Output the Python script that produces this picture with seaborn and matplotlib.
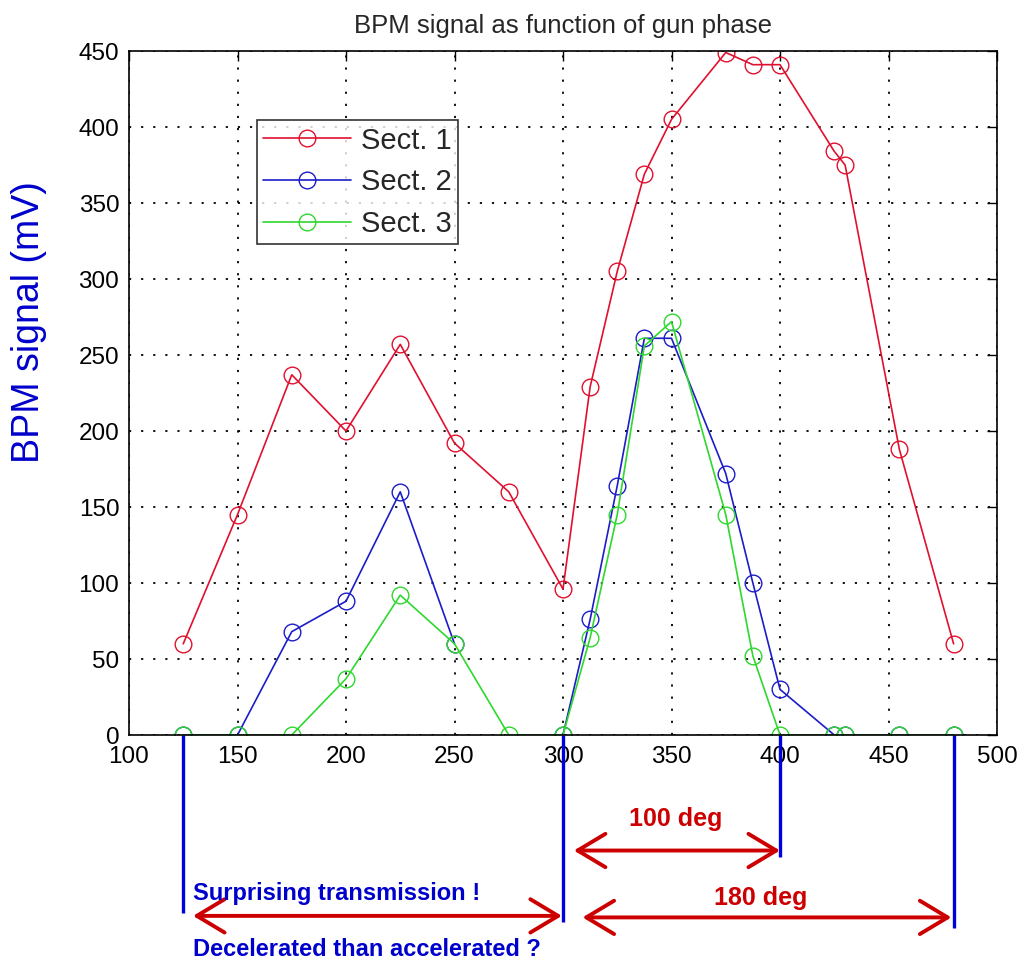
import numpy as np
import pandas as pd
import matplotlib
matplotlib.use("Agg")
import matplotlib.pyplot as plt
from matplotlib.lines import Line2D
import seaborn as sns

# Gun phase (deg) and BPM signal (mV) per section
phase = [125, 150, 175, 200, 225, 250, 275, 300, 312.5, 325, 337.5, 350,
         375, 387.5, 400, 425, 430, 455, 480]
sect1 = [60, 145, 237, 200, 257, 192, 160, 96, 229, 305, 369, 405,
         449, 441, 441, 384, 375, 188, 60]
sect2 = [0, 0, 68, 88, 160, 60, np.nan, 0, 76, 164, 261, 261,
         172, 100, 30, 0, 0, 0, 0]
sect3 = [0, 0, 0, 37, 92, 60, 0, 0, 64, 145, 256, 272,
         145, 52, 0, 0, 0, 0, 0]

series_names = ["Sect. 1", "Sect. 2", "Sect. 3"]
series_values = [sect1, sect2, sect3]
series_colors = ["#E0102E", "#1C1CC8", "#2ED82E"]

x_ticks = list(range(100, 501, 50))
y_ticks = list(range(0, 451, 50))

# Phase markers under the axis: x position and how far down they reach
marker_phase = [125, 300, 400, 480]
marker_depth = [-117, -123, -80, -127]

sns.set_style("white")
plt.rcParams["font.family"] = ["Liberation Sans", "DejaVu Sans"]

fig = plt.figure(figsize=(10.22, 9.65), dpi=100)
W, H = 1022, 965
ax = fig.add_axes([129 / W, 1 - 735 / H, 868 / W, 684 / H])

handles = []
for name, vals, col in zip(series_names, series_values, series_colors):
    df = pd.DataFrame({"phase": phase, "signal": vals})
    df["segment"] = df["signal"].isna().cumsum()
    df = df.dropna()
    sns.lineplot(data=df, x="phase", y="signal", units="segment",
                 estimator=None, sort=False, ax=ax, color=col, lw=1.2,
                 marker="o", markersize=12, markerfacecolor="none",
                 markeredgecolor=col, markeredgewidth=1.0, legend=False)
    handles.append(Line2D([], [], color=col, lw=1.2, marker="o",
                          markersize=12, markerfacecolor="none",
                          markeredgecolor=col, markeredgewidth=1.0,
                          label=name))

ax.set_xlim(100, 500)
ax.set_ylim(0, 450)
ax.set_xticks(x_ticks)
ax.set_yticks(y_ticks)
ax.tick_params(axis="both", direction="in", length=7, width=1,
               top=True, right=True, labelsize=17.5, colors="black")
ax.tick_params(axis="x", pad=8)
ax.tick_params(axis="y", pad=7)
ax.grid(True, color="black", linestyle=(0, (1.2, 5.5)), linewidth=1.3)
for s in ax.spines.values():
    s.set_color("black")
    s.set_linewidth(1.2)
ax.set_xlabel("")
ax.set_ylabel("BPM signal (mV)", fontsize=27, color="#0000CC")
ax.yaxis.set_label_coords(-0.094, 0.604)
ax.set_title("BPM signal as function of gun phase", fontsize=18.5, pad=13)

leg = ax.legend(handles=handles, loc="upper left", bbox_to_anchor=(0.147, 0.899),
                borderaxespad=0, fontsize=21, frameon=True, fancybox=False,
                edgecolor="black", handlelength=3.0, handletextpad=0.35,
                labelspacing=0.47, borderpad=0.22)
leg.get_frame().set_linewidth(1.2)

# Annotations below the axis
ax.vlines(marker_phase, marker_depth, 0, colors="#0000DD", lw=2.4, clip_on=False)

red = "#CC0000"
blue = "#0000CC"
arrow = dict(arrowstyle="<->,head_length=1.0,head_width=0.6", color=red,
             lw=2.8, shrinkA=0, shrinkB=0, mutation_scale=20)
ax.annotate("", xy=(400, -76), xytext=(305, -76), arrowprops=arrow,
            annotation_clip=False)
ax.annotate("", xy=(479, -120), xytext=(309, -120), arrowprops=arrow,
            annotation_clip=False)
ax.annotate("", xy=(299.5, -119), xytext=(129.5, -119), arrowprops=arrow,
            annotation_clip=False)

ax.text(352, -55, "100 deg", color=red, fontsize=18, fontweight="bold",
        ha="center", va="center")
ax.text(391, -107, "180 deg", color=red, fontsize=18, fontweight="bold",
        ha="center", va="center")
ax.text(129.6, -104.5, "Surprising transmission !", color=blue, fontsize=17,
        fontweight="bold", ha="left", va="center")
ax.text(129.6, -141, "Decelerated than accelerated ?", color=blue, fontsize=17,
        fontweight="bold", ha="left", va="center")

fig.savefig("out.png", dpi=100, facecolor="white")
